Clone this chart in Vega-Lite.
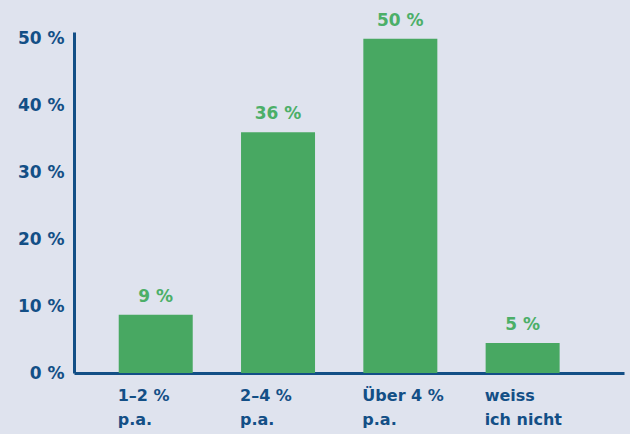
{
  "$schema": "https://vega.github.io/schema/vega-lite/v6.json",
  "autosize": {"type": "none"},
  "padding": {"left": 74, "top": 32, "right": 6, "bottom": 61},
  "width": 550,
  "height": 341,
  "background": "#dfe3ee",
  "config": {"view": {"stroke": null}, "font": "DejaVu Sans"},
  "data": {
    "values": [
      {"category": "1–2 %\np.a.", "value": 8.7, "label": "9 %"},
      {"category": "2–4 %\np.a.", "value": 36, "label": "36 %"},
      {"category": "Über 4 %\np.a.", "value": 50, "label": "50 %"},
      {"category": "weiss\n\u00a0ich nicht", "value": 4.5, "label": "5 %"}
    ]
  },
  "encoding": {
    "x": {
      "field": "category",
      "type": "nominal",
      "sort": null,
      "scale": {"paddingInner": 0.395, "paddingOuter": 0.446, "align": 0.41},
      "axis": {
        "title": null,
        "labelAngle": 0,
        "labelAlign": "left",
        "labelBaseline": "top",
        "labelOffset": -38,
        "labelPadding": 14,
        "labelExpr": "split(datum.label, '\\n')",
        "labelLineHeight": 24,
        "labelFontSize": 16,
        "labelFontWeight": "bold",
        "labelColor": "#134f86",
        "ticks": false,
        "domainColor": "#134f86",
        "domainWidth": 3
      }
    },
    "y": {
      "field": "value",
      "type": "quantitative",
      "scale": {"domain": [0, 51], "nice": false},
      "axis": {
        "title": null,
        "values": [0, 10, 20, 30, 40, 50],
        "labelExpr": "datum.value + ' %'",
        "grid": false,
        "ticks": false,
        "labelPadding": 10,
        "labelFontSize": 17,
        "labelFontWeight": "bold",
        "labelColor": "#134f86",
        "domainColor": "#134f86",
        "domainWidth": 3
      }
    }
  },
  "layer": [
    {"mark": {"type": "bar", "color": "#48a862"}},
    {
      "mark": {
        "type": "text",
        "color": "#4caf68",
        "fontSize": 17,
        "fontWeight": "bold",
        "baseline": "alphabetic",
        "dy": -13
      },
      "encoding": {"text": {"field": "label"}}
    }
  ]
}
